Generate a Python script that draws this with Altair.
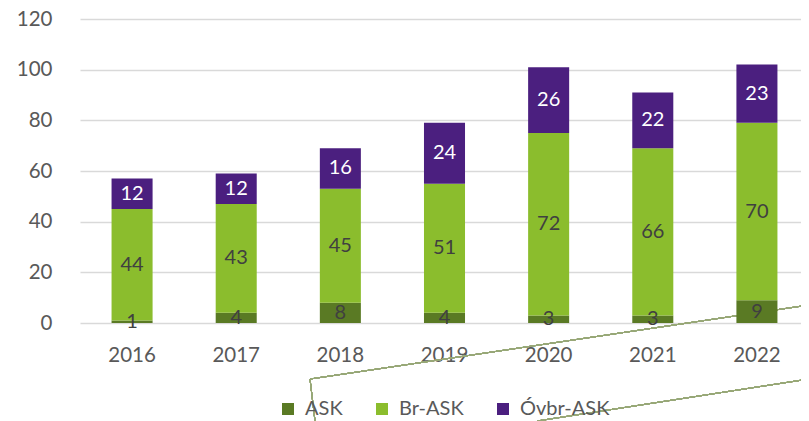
import altair as alt
import pandas as pd

years = ["2016", "2017", "2018", "2019", "2020", "2021", "2022"]
series = ["ASK", "Br-ASK", "Óvbr-ASK"]
ask = [1, 4, 8, 4, 3, 3, 9]
br_ask = [44, 43, 45, 51, 72, 66, 70]
ovbr_ask = [12, 12, 16, 24, 26, 22, 23]
colors = ["#5A7A24", "#8BBD2D", "#4B1F7F"]
y_ticks = [0, 20, 40, 60, 80, 100, 120]

rows = []
for i, y in enumerate(years):
    for k, (s, vals) in enumerate(zip(series, [ask, br_ask, ovbr_ask])):
        rows.append({"year": y, "series": s, "value": vals[i], "ord": k})
df = pd.DataFrame(rows)

FONT = "Lato"
xscale = alt.Scale(paddingInner=0.606, paddingOuter=0.303, range=[0, 729])
yscale = alt.Scale(domain=[0, 120], nice=False)

base = alt.Chart(df)

bars = base.mark_bar().encode(
    x=alt.X("year:N", scale=xscale, sort=years,
            axis=alt.Axis(title=None, labelAngle=0, ticks=False, domain=False,
                          labelPadding=22, labelFontSize=20.5, labelFont=FONT,
                          labelColor="#595959")),
    y=alt.Y("value:Q", stack="zero", scale=yscale,
            axis=alt.Axis(title=None, values=y_ticks, ticks=False, domain=False,
                          labelPadding=28, labelFontSize=20.5, labelFont=FONT,
                          labelColor="#595959", gridColor="#d9d9d9", gridWidth=1.5)),
    color=alt.Color("series:N", scale=alt.Scale(domain=series, range=colors),
                    legend=alt.Legend(title=None, orient="none", legendX=198, legendY=380,
                                      direction="horizontal", symbolType="square",
                                      symbolSize=144, symbolStrokeWidth=0,
                                      labelFontSize=20, labelFont=FONT,
                                      labelColor="#595959", columnPadding=29,
                                      labelOffset=7, padding=0)),
    order=alt.Order("ord:Q"),
)

labels = base.transform_stack(
    stack="value", groupby=["year"], as_=["y0", "y1"],
    sort=[alt.SortField("ord", order="ascending")],
).transform_calculate(
    mid="(datum.y0 + datum.y1) / 2"
).mark_text(font=FONT, fontSize=20, baseline="middle", align="center").encode(
    x=alt.X("year:N", scale=xscale, sort=years),
    y=alt.Y("mid:Q", scale=yscale),
    text=alt.Text("value:Q"),
    color=alt.condition(alt.datum.series == "Óvbr-ASK", alt.value("white"), alt.value("#404040")),
)

line_color = "#98A878"
deco1 = alt.Chart(df).mark_rule(color=line_color, strokeWidth=1).encode(
    x=alt.value(230), y=alt.value(360), x2=alt.value(729), y2=alt.value(286))
deco2 = alt.Chart(df).mark_rule(color=line_color, strokeWidth=1).encode(
    x=alt.value(230), y=alt.value(360), x2=alt.value(235), y2=alt.value(402))
deco3 = alt.Chart(df).mark_rule(color=line_color, strokeWidth=1).encode(
    x=alt.value(457), y=alt.value(402), x2=alt.value(729), y2=alt.value(360))

chart = alt.layer(deco1, deco2, deco3, bars, labels).properties(
    width=721, height=304,
    autosize=alt.AutoSizeParams(type="none"),
    padding={"left": 72, "top": 11, "right": 0, "bottom": 98},
).configure_view(stroke=None)

chart.save("out.html", embed_options={"renderer": "svg", "actions": False})
